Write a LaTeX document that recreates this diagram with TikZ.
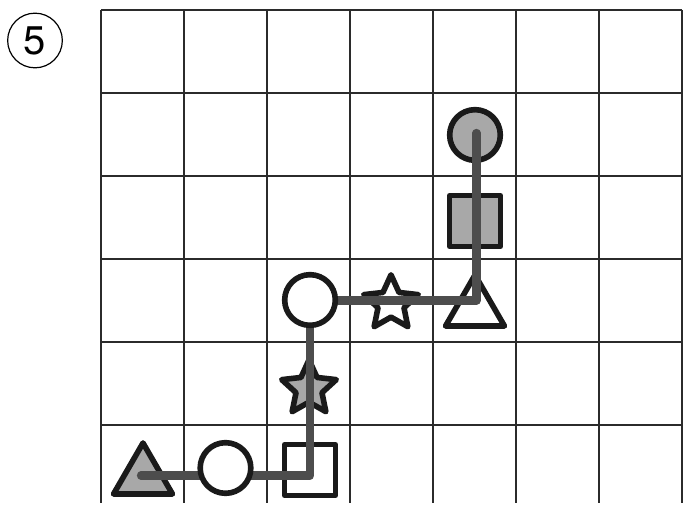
\documentclass[tikz,border=0pt]{standalone}
\usepackage{fontspec}
\newfontfamily\numfont{TeX Gyre Heros}
\usetikzlibrary{positioning,shapes.geometric}
\definecolor{gridc}{HTML}{2B2B2B}
\definecolor{edgec}{HTML}{1A1A1A}
\definecolor{fillc}{HTML}{A8A8A8}
\definecolor{pathc}{HTML}{4D4D4D}

\begin{document}
\begin{tikzpicture}[
  x=0.75pt, y=-0.75pt,
  gridline/.style={gridc,line width=1.1pt},
  shp/.style={draw=edgec,line width=4.2pt,inner sep=0pt,line join=round},
  dot/.style={shp,circle,minimum size=38pt},
  sqr/.style={shp,rectangle,minimum size=38pt},
  tri/.style={shp,regular polygon,regular polygon sides=3,minimum size=51pt},
  starshp/.style={shp,star,star points=5,star point ratio=2.1,minimum size=43pt},
  grey/.style={fill=fillc},
  route/.style={pathc,line width=6.2pt,line cap=round,line join=round}
]
\useasboundingbox (0,0) rectangle (683,505);

% grid
\foreach \x in {101,184,267,350,433,516,599,682}
  \draw[gridline] (\x,10) -- (\x,503);
\foreach \y in {10,93,176,259,342,425}
  \draw[gridline] (101,\y) -- (682,\y);

\node[draw,circle,line width=0.9pt,minimum size=41pt,inner sep=0pt] (num) at (35,40.5) {};
\node[font=\numfont\fontsize{30}{30}\selectfont,inner sep=0pt] (numtxt) at (num.center) {5};

\node[tri,grey] (tri1) at (143,477) {};
\node[sqr] (sq1) at (310,470) {};
\node[starshp,grey] (st1) at (309,388.5) {};
\node[starshp] (st2) at (391,303.5) {};
\node[tri] (tri2) at (475,309) {};
\node[sqr,grey] (sq2) at (475,221) {};
\node[dot,grey] (dot3) at (475,135) {};

\coordinate (start) at (141,475.5);
\coordinate (c1) at (310,475.5);
\coordinate (c2) at (310,300.5);
\coordinate (c3) at (476.5,300.5);
\coordinate (stop) at (476.5,133);
\draw[route] (start) -- (c1) -- (c2) -- (c3) -- (stop);

\node[dot,fill=white] (dot1) at (225.5,468) {};
\node[dot,fill=white] (dot2) at (310,300) {};
\end{tikzpicture}
\end{document}
